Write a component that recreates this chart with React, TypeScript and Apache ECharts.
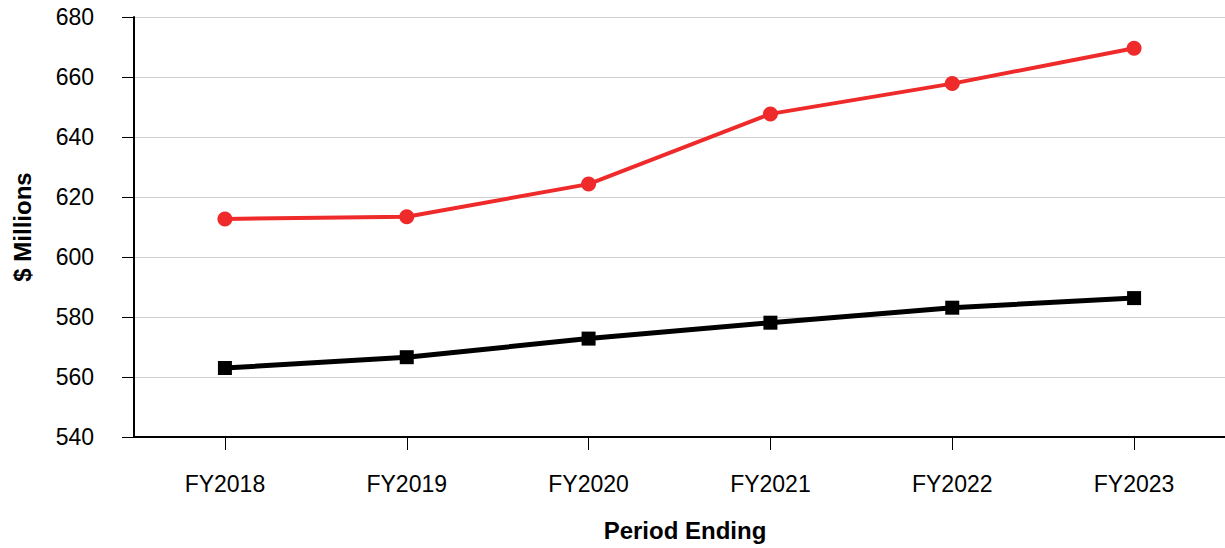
import React, { useEffect, useRef } from "react";
import * as echarts from "echarts";

const categories = ["FY2018", "FY2019", "FY2020", "FY2021", "FY2022", "FY2023"];
const redSeries = [612.7, 613.4, 624.3, 647.7, 657.8, 669.6];
const blackSeries = [563.0, 566.6, 572.8, 578.1, 583.1, 586.3];
const yMin = 540;
const yMax = 680;
const yInterval = 20;

export default function App() {
  const ref = useRef<HTMLDivElement>(null);
  useEffect(() => {
    if (!ref.current) return;
    const chart = echarts.init(ref.current, null, { renderer: "svg" });
    const font = "Liberation Sans, Arial, sans-serif";
    chart.setOption({
      animation: false,
      textStyle: { fontFamily: font },
      grid: { left: 134, right: -3, top: 17, bottom: 111, containLabel: false },
      xAxis: {
        type: "category",
        data: categories,
        boundaryGap: true,
        name: "Period Ending",
        nameLocation: "middle",
        nameGap: 81,
        nameTextStyle: { fontSize: 24, fontWeight: "bold", color: "#000", fontFamily: font, padding: [0, 0, 0, 11] },
        axisLine: { lineStyle: { color: "#000", width: 2 } },
        axisTick: { show: true, alignWithLabel: true, length: 13, lineStyle: { color: "#000", width: 1 } },
        axisLabel: { interval: 0, margin: 35, fontSize: 23, color: "#000", fontFamily: font },
        splitLine: { show: false },
      },
      yAxis: {
        type: "value",
        min: yMin,
        max: yMax,
        interval: yInterval,
        name: "$ Millions",
        nameLocation: "middle",
        nameRotate: 90,
        nameGap: 100,
        nameTextStyle: { fontSize: 24, fontWeight: "bold", color: "#000", fontFamily: font },
        axisLine: { show: true, lineStyle: { color: "#000", width: 2 } },
        axisTick: { show: true, length: 12, lineStyle: { color: "#000", width: 1 } },
        axisLabel: { margin: 40, fontSize: 23, color: "#000", fontFamily: font },
        splitLine: { show: true, lineStyle: { color: "#d0d0d0", width: 1 } },
      },
      series: [
        {
          type: "line",
          data: redSeries,
          symbol: "circle",
          symbolSize: 15,
          lineStyle: { color: "#ee2a2a", width: 4 },
          itemStyle: { color: "#ee2a2a" },
          z: 3,
        },
        {
          type: "line",
          data: blackSeries,
          symbol: "rect",
          symbolSize: 14,
          lineStyle: { color: "#000", width: 5 },
          itemStyle: { color: "#000" },
          z: 3,
        },
      ],
    });
    return () => chart.dispose();
  }, []);
  return <div ref={ref} style={{ width: 1225, height: 548, position: "absolute", left: 0, top: 0 }} />;
}
